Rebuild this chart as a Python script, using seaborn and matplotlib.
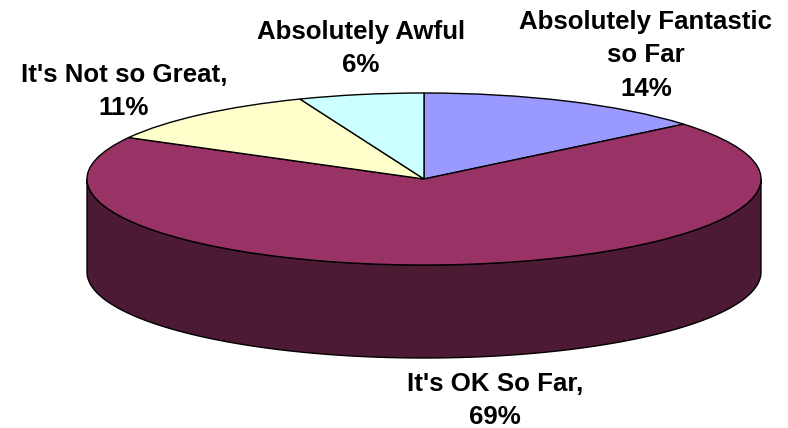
import numpy as np
import matplotlib
matplotlib.use("Agg")
import matplotlib.pyplot as plt
from matplotlib.patches import Polygon
from matplotlib.transforms import Affine2D
import seaborn as sns

# ---- data ----
categories = ["Absolutely Fantastic\nso Far", "It's OK So Far,", "It's Not so Great,", "Absolutely Awful"]
values = [14, 69, 11, 6]
top_colors = ["#9999FF", "#993366", "#FFFFCC", "#CCFFFF"]
side_colors = ["#4D4D80", "#4D1A33", "#808066", "#668080"]

# ---- layout (pixels) ----
W, H = 788, 428
CX, CY = 424, 179      # centre of top face
RX, RY = 337, 86       # ellipse radii
DEPTH = 93             # thickness of the pie
label_anchor = [(646, 28.5), (495, 391), (124, 81.5), (361, 38.5)]  # centre x, first baseline y
LINE_H = 33.5

sns.set_style("white")
plt.rcParams["font.family"] = ["Liberation Sans", "DejaVu Sans"]

fig = plt.figure(figsize=(W / 100, H / 100), dpi=100)
ax = fig.add_axes([0, 0, 1, 1])

# side (extrusion) of the pie: only the front half is visible
total = float(sum(values))
cum = np.concatenate([[0], np.cumsum(values)]) / total
for i in range(len(values)):
    t_hi = 90 - 360 * cum[i]
    t_lo = 90 - 360 * cum[i + 1]
    a, b = max(t_lo, -180), min(t_hi, 0)
    if b <= a:
        continue
    t = np.radians(np.linspace(a, b, 200))
    xs = CX + RX * np.cos(t)
    ys = CY - RY * np.sin(t)
    pts = np.concatenate([np.column_stack([xs, ys]),
                          np.column_stack([xs[::-1], ys[::-1] + DEPTH])])
    ax.add_patch(Polygon(pts, closed=True, facecolor=side_colors[i],
                         edgecolor="black", linewidth=1.0, zorder=1))

# top face, drawn by matplotlib's pie and squashed into an ellipse
wedges, _ = ax.pie(values, colors=top_colors, startangle=90, counterclock=False,
                   radius=1, wedgeprops=dict(edgecolor="black", linewidth=1.0))
T = Affine2D().scale(RX, -RY).translate(CX, CY) + ax.transData
for w in wedges:
    w.set_transform(T)
    w.set_zorder(2)

# labels
for lab, v, (x, y) in zip(categories, values, label_anchor):
    lines = lab.split("\n") + [f"{v}%"]
    for j, line in enumerate(lines):
        ax.text(x, y + j * LINE_H, line, ha="center", va="baseline",
                fontsize=18.6, fontweight="bold", color="black", zorder=3)

ax.set_xlim(0, W)
ax.set_ylim(H, 0)
ax.set_aspect("auto")
ax.axis("off")

fig.savefig("out.png", dpi=100, facecolor="white")
